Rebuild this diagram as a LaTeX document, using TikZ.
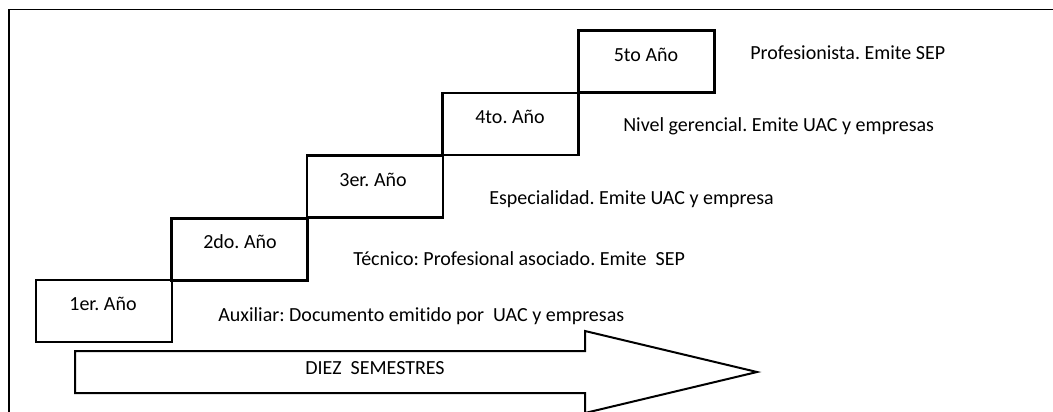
\documentclass[tikz,border=0pt]{standalone}
\usepackage{fontspec}
\setmainfont[Ligatures={NoCommon}]{Carlito}
\frenchspacing
\begin{document}
\begin{tikzpicture}[x=0.75pt,y=-0.75pt,
  yearbox/.style={draw, line width=2.2pt, inner sep=0pt, minimum width=102pt, minimum height=46.5pt},
  yeartext/.style={anchor=base, inner sep=0pt, font=\fontsize{15pt}{18pt}\selectfont},
  desc/.style={anchor=base west, inner sep=0pt, font=\fontsize{15pt}{18pt}\selectfont},
  frameline/.style={line width=1.1pt},
  arrowshape/.style={draw, line width=1.5pt, line join=miter}]
\useasboundingbox (0,0) rectangle (1053,411);
% frame
\coordinate (fbl) at (9,412);
\coordinate (ftl) at (9,9.5);
\coordinate (ftr) at (1054,9.5);
\draw[frameline] (fbl) -- (ftl) -- (ftr);
% year boxes
\node[yearbox] (b1) at (104,311) {};
\node[yearbox] (b2) at (239.5,249.5) {};
\node[yearbox] (b3) at (375,186.5) {};
\node[yearbox] (b4) at (510.5,124) {};
\node[yearbox] (b5) at (646.5,61.5) {};
\node[yeartext] (t1) at (103,310) {1er. Año};
\node[yeartext] (t2) at (240,248) {2do. Año};
\node[yeartext] (t3) at (373,186) {3er. Año};
\node[yeartext] (t4) at (510,123) {4to. Año};
\node[yeartext] (t5) at (646,61) {5to Año};
% descriptions
\node[desc] (d5) at (750,59) {Profesionista. Emite SEP};
\node[desc] (d4) at (623,131) {Nivel gerencial. Emite UAC y empresas};
\node[desc] (d3) at (489,204) {Especialidad. Emite UAC y empresa};
\node[desc] (d2) at (353,265) {Técnico: Profesional asociado. Emite~ SEP};
\node[desc] (d1) at (218,321) {Auxiliar: Documento emitido por~ UAC y empresas};
% arrow
\draw[arrowshape] (75,351) -- (585,351) -- (585,331) -- (757,372) -- (585,413) -- (585,393) -- (75,393) -- cycle;
\node[desc] (sem) at (305,374) {DIEZ~ SEMESTRES};
\end{tikzpicture}
\end{document}
